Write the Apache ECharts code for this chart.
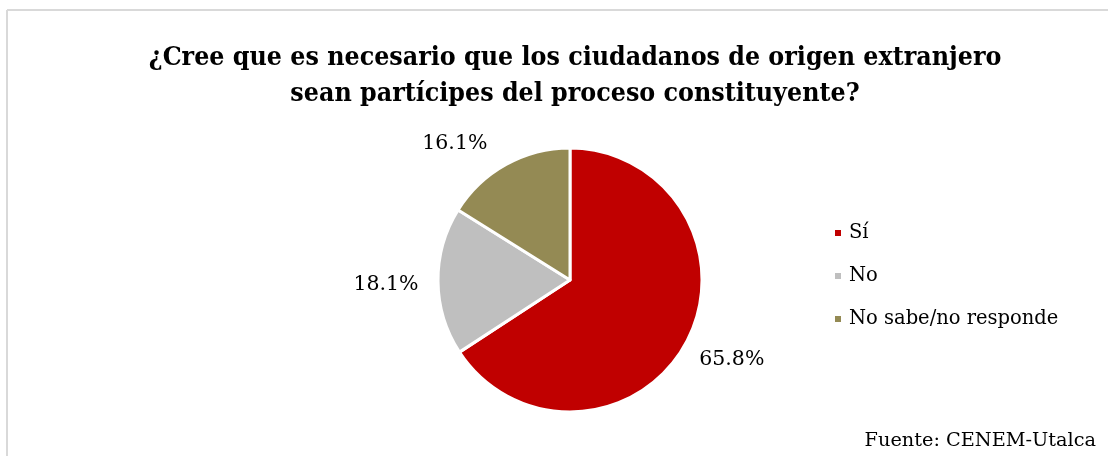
<!DOCTYPE html>
<html>
<head>
<meta charset="utf-8">
<script src="https://cdn.jsdelivr.net/npm/echarts@6/dist/echarts.min.js"></script>
<style>
html,body{margin:0;padding:0;background:#fff;}
#chart{width:1108px;height:456px;}
</style>
</head>
<body>
<div id="chart"></div>
<script>
const categories = ['Sí', 'No', 'No sabe/no responde'];
const values = [65.8, 18.1, 16.1];
const colors = ['#C00000', '#BFBFBF', '#948A54'];
const titleText = '¿Cree que es necesario que los ciudadanos de origen extranjero\nsean partícipes del proceso constituyente?';
const sourceText = 'Fuente: CENEM-Utalca';
// label nudges (style only) to mimic Excel's best-fit placement
const labelNudges = [[0, -8], [0, 3], [-26, 25]];

const TFONT = '"DejaVu Serif Condensed", "DejaVu Serif", serif';
const FONT = '"DejaVu Serif", serif';
const chart = echarts.init(document.getElementById('chart'));
const pieData = categories.map((c, i) => ({ name: c, value: values[i], itemStyle: { color: colors[i] } }));
const labelData = categories.map((c, i) => ({ name: c, value: values[i], label: { offset: labelNudges[i] } }));

chart.setOption({
  animation: false,
  backgroundColor: '#ffffff',
  title: [{
    text: titleText,
    left: 570, top: 35, textAlign: 'center',
    textStyle: { fontFamily: TFONT, fontWeight: 'bold', fontSize: 26.5, color: '#000', lineHeight: 36 }
  }, {
    text: sourceText,
    right: 7, top: 426,
    textStyle: { fontFamily: FONT, fontWeight: 'normal', fontSize: 19.3, color: '#000' }
  }],
  legend: {
    orient: 'vertical',
    left: 828, top: 218,
    itemWidth: 8, itemHeight: 8, itemGap: 23,
    icon: 'rect',
    data: categories.map((c, i) => ({ name: c, itemStyle: { color: colors[i] } })),
    textStyle: { fontFamily: FONT, fontSize: 19.5, lineHeight: 20, color: '#000', padding: [0, 0, 0, 2] }
  },
  graphic: [
    { type: 'line', shape: { x1: 7, y1: 10, x2: 1108, y2: 10 }, style: { stroke: '#D9D9D9', lineWidth: 2 } },
    { type: 'line', shape: { x1: 7, y1: 10, x2: 7, y2: 456 }, style: { stroke: '#D9D9D9', lineWidth: 2 } }
  ],
  series: [{
    type: 'pie',
    center: [570, 280],
    radius: [0, 132],
    startAngle: 90,
    clockwise: true,
    label: { show: false },
    labelLine: { show: false },
    itemStyle: { borderColor: '#fff', borderWidth: 3 },
    data: pieData
  }, {
    type: 'pie',
    center: [570, 280],
    radius: [134, 228],
    startAngle: 90,
    clockwise: true,
    silent: true,
    itemStyle: { color: 'rgba(0,0,0,0)' },
    label: {
      show: true, position: 'inside',
      formatter: p => p.value.toFixed(1) + '%',
      fontFamily: FONT, fontSize: 20.5, color: '#000'
    },
    labelLine: { show: false },
    data: labelData
  }]
});
</script>
</body>
</html>
